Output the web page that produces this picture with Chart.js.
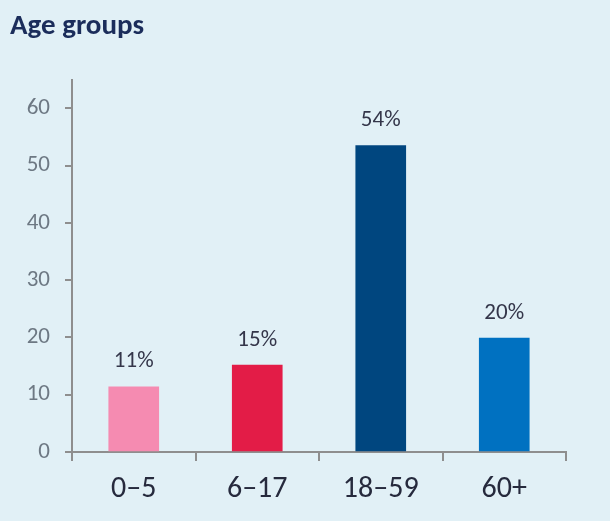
<!DOCTYPE html>
<html>
<head>
<meta charset="utf-8">
<script src="https://cdn.jsdelivr.net/npm/chart.js@4"></script>
<style>
  html, body { margin: 0; padding: 0; background: #e1f0f6; }
  #wrap { width: 610px; height: 521px; position: relative; }
</style>
</head>
<body>
<div id="wrap"><canvas id="myChart"></canvas></div>
<script>
const groups = ['0–5', '6–17', '18–59', '60+']
const shares = [11.4, 15.2, 53.5, 19.9]
const barColors = ['#f58bb1', '#e31c47', '#00467f', '#0071c1']
const yTicks = [0, 10, 20, 30, 40, 50, 60]

Chart.defaults.font.family = 'Carlito, Lato, sans-serif';

const axisGray = '#8e8e8e';

// percent labels above each bar
const valueLabels = {
  id: 'valueLabels',
  afterDatasetsDraw(chart) {
    const ctx = chart.ctx;
    const meta = chart.getDatasetMeta(0);
    ctx.save();
    ctx.font = '23px Carlito, Lato, sans-serif';
    ctx.fillStyle = '#34364a';
    ctx.textAlign = 'center';
    ctx.textBaseline = 'middle';
    meta.data.forEach((bar, i) => {
      ctx.fillText(Math.round(shares[i]) + '%', bar.x, bar.y - 25);
    });
    ctx.restore();
  }
};

const config = {
  type: 'bar',
  data: {
    labels: groups,
    datasets: [{
      data: shares,
      backgroundColor: barColors,
      barThickness: 50,
    }]
  },
  options: {
    responsive: true,
    maintainAspectRatio: false,
    animation: false,
    layout: { padding: { left: 10, right: 44, top: 0, bottom: 0 } },
    scales: {
      x: {
        grid: {
          offset: true,
          drawOnChartArea: false,
          drawTicks: true,
          tickLength: 9,
          color: axisGray,
          lineWidth: 2,
        },
        border: { display: true, color: axisGray, width: 2 },
        ticks: {
          color: '#262a3d',
          font: { size: 30 },
          padding: 10,
        },
        afterFit: (s) => { s.height = 69; },
      },
      y: {
        min: 0,
        max: 65,
        afterBuildTicks: (s) => {
          s.ticks = yTicks.map(v => ({ value: v }));
        },
        grid: {
          drawOnChartArea: false,
          drawTicks: true,
          tickLength: 7,
          color: axisGray,
          lineWidth: 2,
        },
        border: { display: true, color: axisGray, width: 2 },
        ticks: {
          color: '#6d7883',
          font: { size: 23 },
          padding: 15,
        },
        afterFit: (s) => { s.width = 62; },
      },
    },
    plugins: {
      legend: { display: false },
      tooltip: { enabled: false },
      title: {
        display: true,
        text: 'Age groups',
        align: 'start',
        color: '#1b2d5b',
        font: { size: 29, weight: 'bold' },
        padding: { top: 9, bottom: 36 },
      },
    },
  },
  plugins: [valueLabels],
};

const myChart = new Chart(document.getElementById('myChart'), config);
</script>
</body>
</html>
